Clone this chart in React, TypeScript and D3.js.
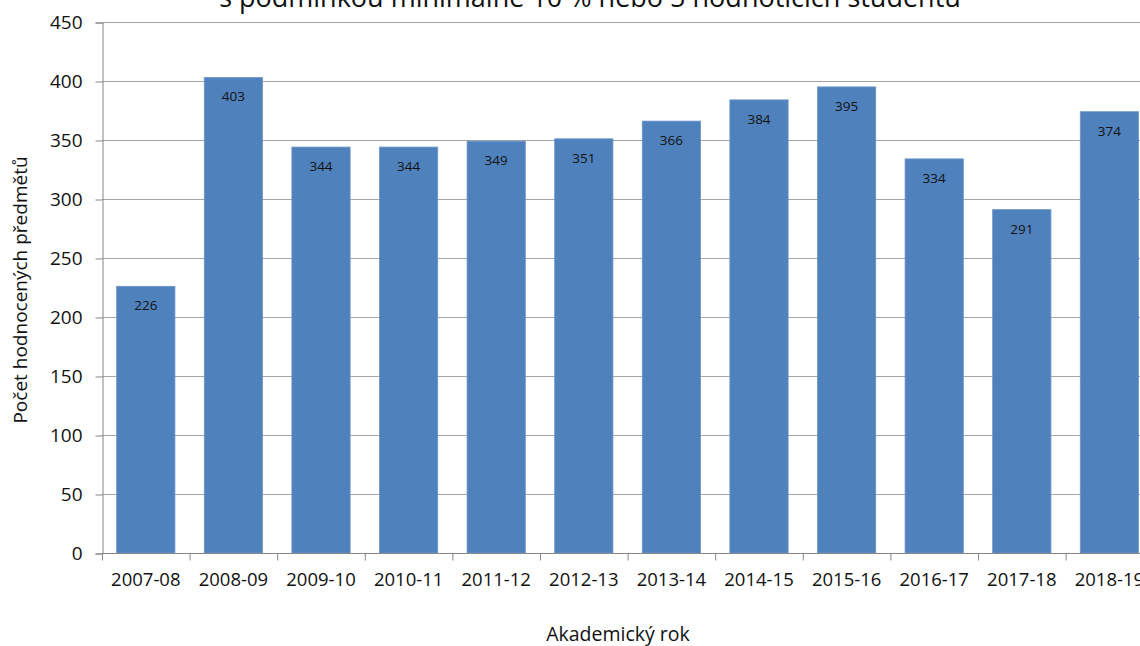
import React, { useEffect, useRef } from 'react';
import * as d3 from 'd3';

const years = ['2007-08', '2008-09', '2009-10', '2010-11', '2011-12', '2012-13', '2013-14', '2014-15', '2015-16', '2016-17', '2017-18', '2018-19'];
const counts = [226, 403, 344, 344, 349, 351, 366, 384, 395, 334, 291, 374];
const yTicks = [0, 50, 100, 150, 200, 250, 300, 350, 400, 450];

const titleLine = 's podmínkou minimálně 10 % nebo 5 hodnotících studentů';
const xTitle = 'Akademický rok';
const yTitle = 'Počet hodnocených předmětů';

export default function App() {
  const ref = useRef<SVGSVGElement>(null);

  useEffect(() => {
    const width = 1140;
    const height = 646;
    const left = 102;
    const top = 22;
    const bottom = 553;
    const font = "'Open Sans', sans-serif";

    const svg = d3.select(ref.current);
    svg.selectAll('*').remove();

    const x = d3.scaleBand<string>()
      .domain(years)
      .range([left, left + 87.6 * years.length])
      .paddingInner(0.335)
      .paddingOuter(0.1675);

    const y = d3.scaleLinear()
      .domain([0, 450])
      .range([bottom, top]);

    // gridlines
    svg.append('g')
      .selectAll('line')
      .data(yTicks.filter(t => t > 0))
      .enter()
      .append('line')
      .attr('x1', left)
      .attr('x2', width)
      .attr('y1', t => y(t) + 0.5)
      .attr('y2', t => y(t) + 0.5)
      .style('stroke', '#a6a6a6')
      .style('stroke-width', 1);

    // bars
    svg.append('g')
      .selectAll('rect')
      .data(years)
      .enter()
      .append('rect')
      .attr('x', d => x(d)!)
      .attr('y', (d, i) => y(counts[i]))
      .attr('width', x.bandwidth())
      .attr('height', (d, i) => bottom - y(counts[i]))
      .style('fill', '#4f81bd')
      .style('stroke', '#6b95c8')
      .style('stroke-width', 0.8);

    // bar labels
    svg.append('g')
      .selectAll('text')
      .data(years)
      .enter()
      .append('text')
      .text((d, i) => counts[i])
      .attr('x', d => x(d)! + x.bandwidth() / 2)
      .attr('y', (d, i) => y(counts[i]) + 24)
      .attr('text-anchor', 'middle')
      .attr('font-family', font)
      .attr('font-size', '13.5px')
      .attr('fill', '#111');

    // y axis
    const yAxis = svg.append('g')
      .attr('transform', `translate(${left + 0.5}, 0.5)`)
      .call(d3.axisLeft(y).tickValues(yTicks).tickSize(7).tickPadding(13));
    yAxis.select('.domain').style('stroke', '#868686');
    yAxis.selectAll('.tick line').style('stroke', '#868686');
    yAxis.selectAll('.tick text')
      .attr('font-family', font)
      .attr('font-size', '19px')
      .attr('fill', '#111');

    // x axis
    const xAxis = svg.append('g')
      .attr('transform', `translate(0, ${bottom + 0.5})`)
      .call(d3.axisBottom(x).tickSize(0).tickPadding(19));
    xAxis.select('.domain').remove();
    xAxis.append('line')
      .attr('x1', left)
      .attr('x2', width)
      .style('stroke', '#868686');
    xAxis.selectAll('.tick line').remove();
    xAxis.selectAll('.tick text')
      .attr('font-family', font)
      .attr('font-size', '18.5px')
      .attr('fill', '#111');
    xAxis.append('g')
      .selectAll('line')
      .data(d3.range(years.length + 1))
      .enter()
      .append('line')
      .attr('x1', i => left + 87.6 * i + 0.5)
      .attr('x2', i => left + 87.6 * i + 0.5)
      .attr('y1', 0)
      .attr('y2', 7)
      .style('stroke', '#868686');

    // title (its upper part is cut off in the source image)
    svg.append('text')
      .text(titleLine)
      .attr('x', 590)
      .attr('y', 7)
      .attr('text-anchor', 'middle')
      .attr('font-family', font)
      .attr('font-size', '27px')
      .attr('fill', '#111');

    svg.append('text')
      .text(xTitle)
      .attr('x', 618)
      .attr('y', 641)
      .attr('text-anchor', 'middle')
      .attr('font-family', font)
      .attr('font-size', '19.5px')
      .attr('fill', '#111');

    svg.append('text')
      .text(yTitle)
      .attr('transform', `translate(27, 290) rotate(-90)`)
      .attr('text-anchor', 'middle')
      .attr('font-family', font)
      .attr('font-size', '19px')
      .attr('fill', '#111');

    svg.attr('width', width).attr('height', height);
  }, []);

  return (
    <svg
      ref={ref}
      width={1140}
      height={646}
      style={{ position: 'absolute', left: 0, top: 0, background: '#fff' }}
    />
  );
}
